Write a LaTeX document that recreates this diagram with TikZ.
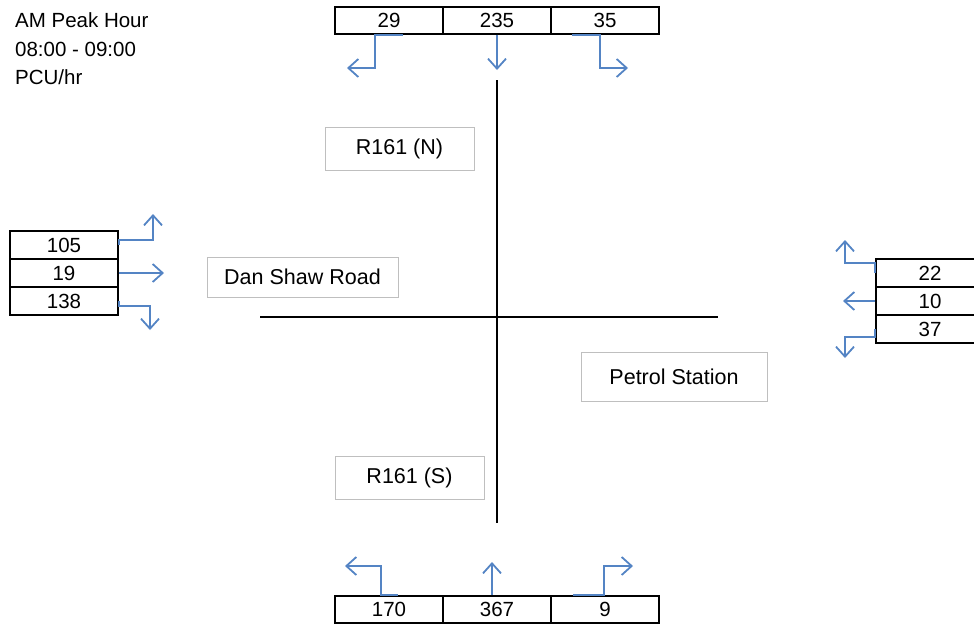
\documentclass[tikz,border=0pt]{standalone}
\usepackage{fontspec}
\setmainfont{Liberation Sans}
\usetikzlibrary{arrows.meta}
\definecolor{flowblue}{RGB}{84,132,196}
\definecolor{boxgray}{RGB}{191,191,191}
\begin{document}
\begin{tikzpicture}[x=1pt,y=-1pt,
  txt/.style={font=\fontsize{20.5}{28.5}\selectfont},
  ltxt/.style={font=\fontsize{21.5}{26}\selectfont},
  cell/.style={draw=black,line width=1.4pt,minimum width=108pt,minimum height=27pt,inner sep=0pt,txt},
  vcell/.style={cell,minimum height=28pt},
  namebox/.style={draw=boxgray,line width=1pt,inner sep=0pt,ltxt},
  flow/.style={draw=flowblue,line width=1.8pt,-{Straight Barb[length=10pt,width=18pt,line width=1.8pt]}},
  road/.style={draw=black,line width=1.8pt}]
\useasboundingbox (0,0) rectangle (974,625);
% title
\node[txt,anchor=north west,align=left,inner sep=0pt] (title) at (15,12.5) {AM Peak Hour\\08:00 - 09:00\\PCU/hr};
% road cross
\coordinate (vN) at (497,80);
\coordinate (vS) at (497,523);
\coordinate (hW) at (260,317);
\coordinate (hE) at (718,317);
\draw[road] (vN) -- (vS);
\draw[road] (hW) -- (hE);
% name boxes
\node[namebox,minimum width=149pt,minimum height=43pt] (rn) at (399.5,148.5) {R161 (N)};
\node[namebox,minimum width=191pt,minimum height=40pt] (ds) at (302.5,277) {Dan Shaw Road};
\node[namebox,minimum width=186pt,minimum height=49pt] (ps) at (674,376.5) {Petrol Station};
\node[namebox,minimum width=149pt,minimum height=43pt] (rs) at (409.5,477.5) {R161 (S)};
% top cells
\node[cell] (t1) at (389,20.5) {29\hspace{22pt}};
\node[cell] (t2) at (497,20.5) {235};
\node[cell] (t3) at (605,20.5) {35};
% bottom cells
\node[cell] (b1) at (389,609.5) {170};
\node[cell] (b2) at (497,609.5) {367};
\node[cell] (b3) at (605,609.5) {9};
% left cells
\node[vcell] (l1) at (64,245) {105};
\node[vcell] (l2) at (64,273) {19};
\node[vcell] (l3) at (64,301) {138};
% right cells
\node[vcell] (r1) at (930,273) {22};
\node[vcell] (r2) at (930,301) {10};
\node[vcell] (r3) at (930,329) {37};
% arrow end points
\coordinate (ta1) at (347,68);
\coordinate (ta2) at (497,70);
\coordinate (ta3) at (628,68);
\coordinate (ba1) at (345,566);
\coordinate (ba2) at (492,562);
\coordinate (ba3) at (633,566);
\coordinate (la1) at (153,214);
\coordinate (la2) at (164,273);
\coordinate (la3) at (150,330);
\coordinate (ra1) at (845,240);
\coordinate (ra2) at (843,301);
\coordinate (ra3) at (845,358);
% top flows
\draw[flow] ([xshift=14pt]t1.south) -- ++(-28,0) |- (ta1);
\draw[flow] (t2.south) -- (ta2);
\draw[flow] ([xshift=-33pt]t3.south) -- ++(28,0) |- (ta3);
% bottom flows
\draw[flow] ([xshift=9pt]b1.north) -- ++(-17,0) |- (ba1);
\draw[flow] ([xshift=-5pt]b2.north) -- (ba2);
\draw[flow] ([xshift=-32pt]b3.north) -- ++(31,0) |- (ba3);
% left flows
\draw[flow] (l1.east) -- ++(0,-5) -| (la1);
\draw[flow] (l2.east) -- (la2);
\draw[flow] (l3.east) -- ++(0,5) -| (la3);
% right flows
\draw[flow] (r1.west) -- ++(0,-10) -| (ra1);
\draw[flow] (r2.west) -- (ra2);
\draw[flow] (r3.west) -- ++(0,8) -| (ra3);
\end{tikzpicture}
\end{document}
